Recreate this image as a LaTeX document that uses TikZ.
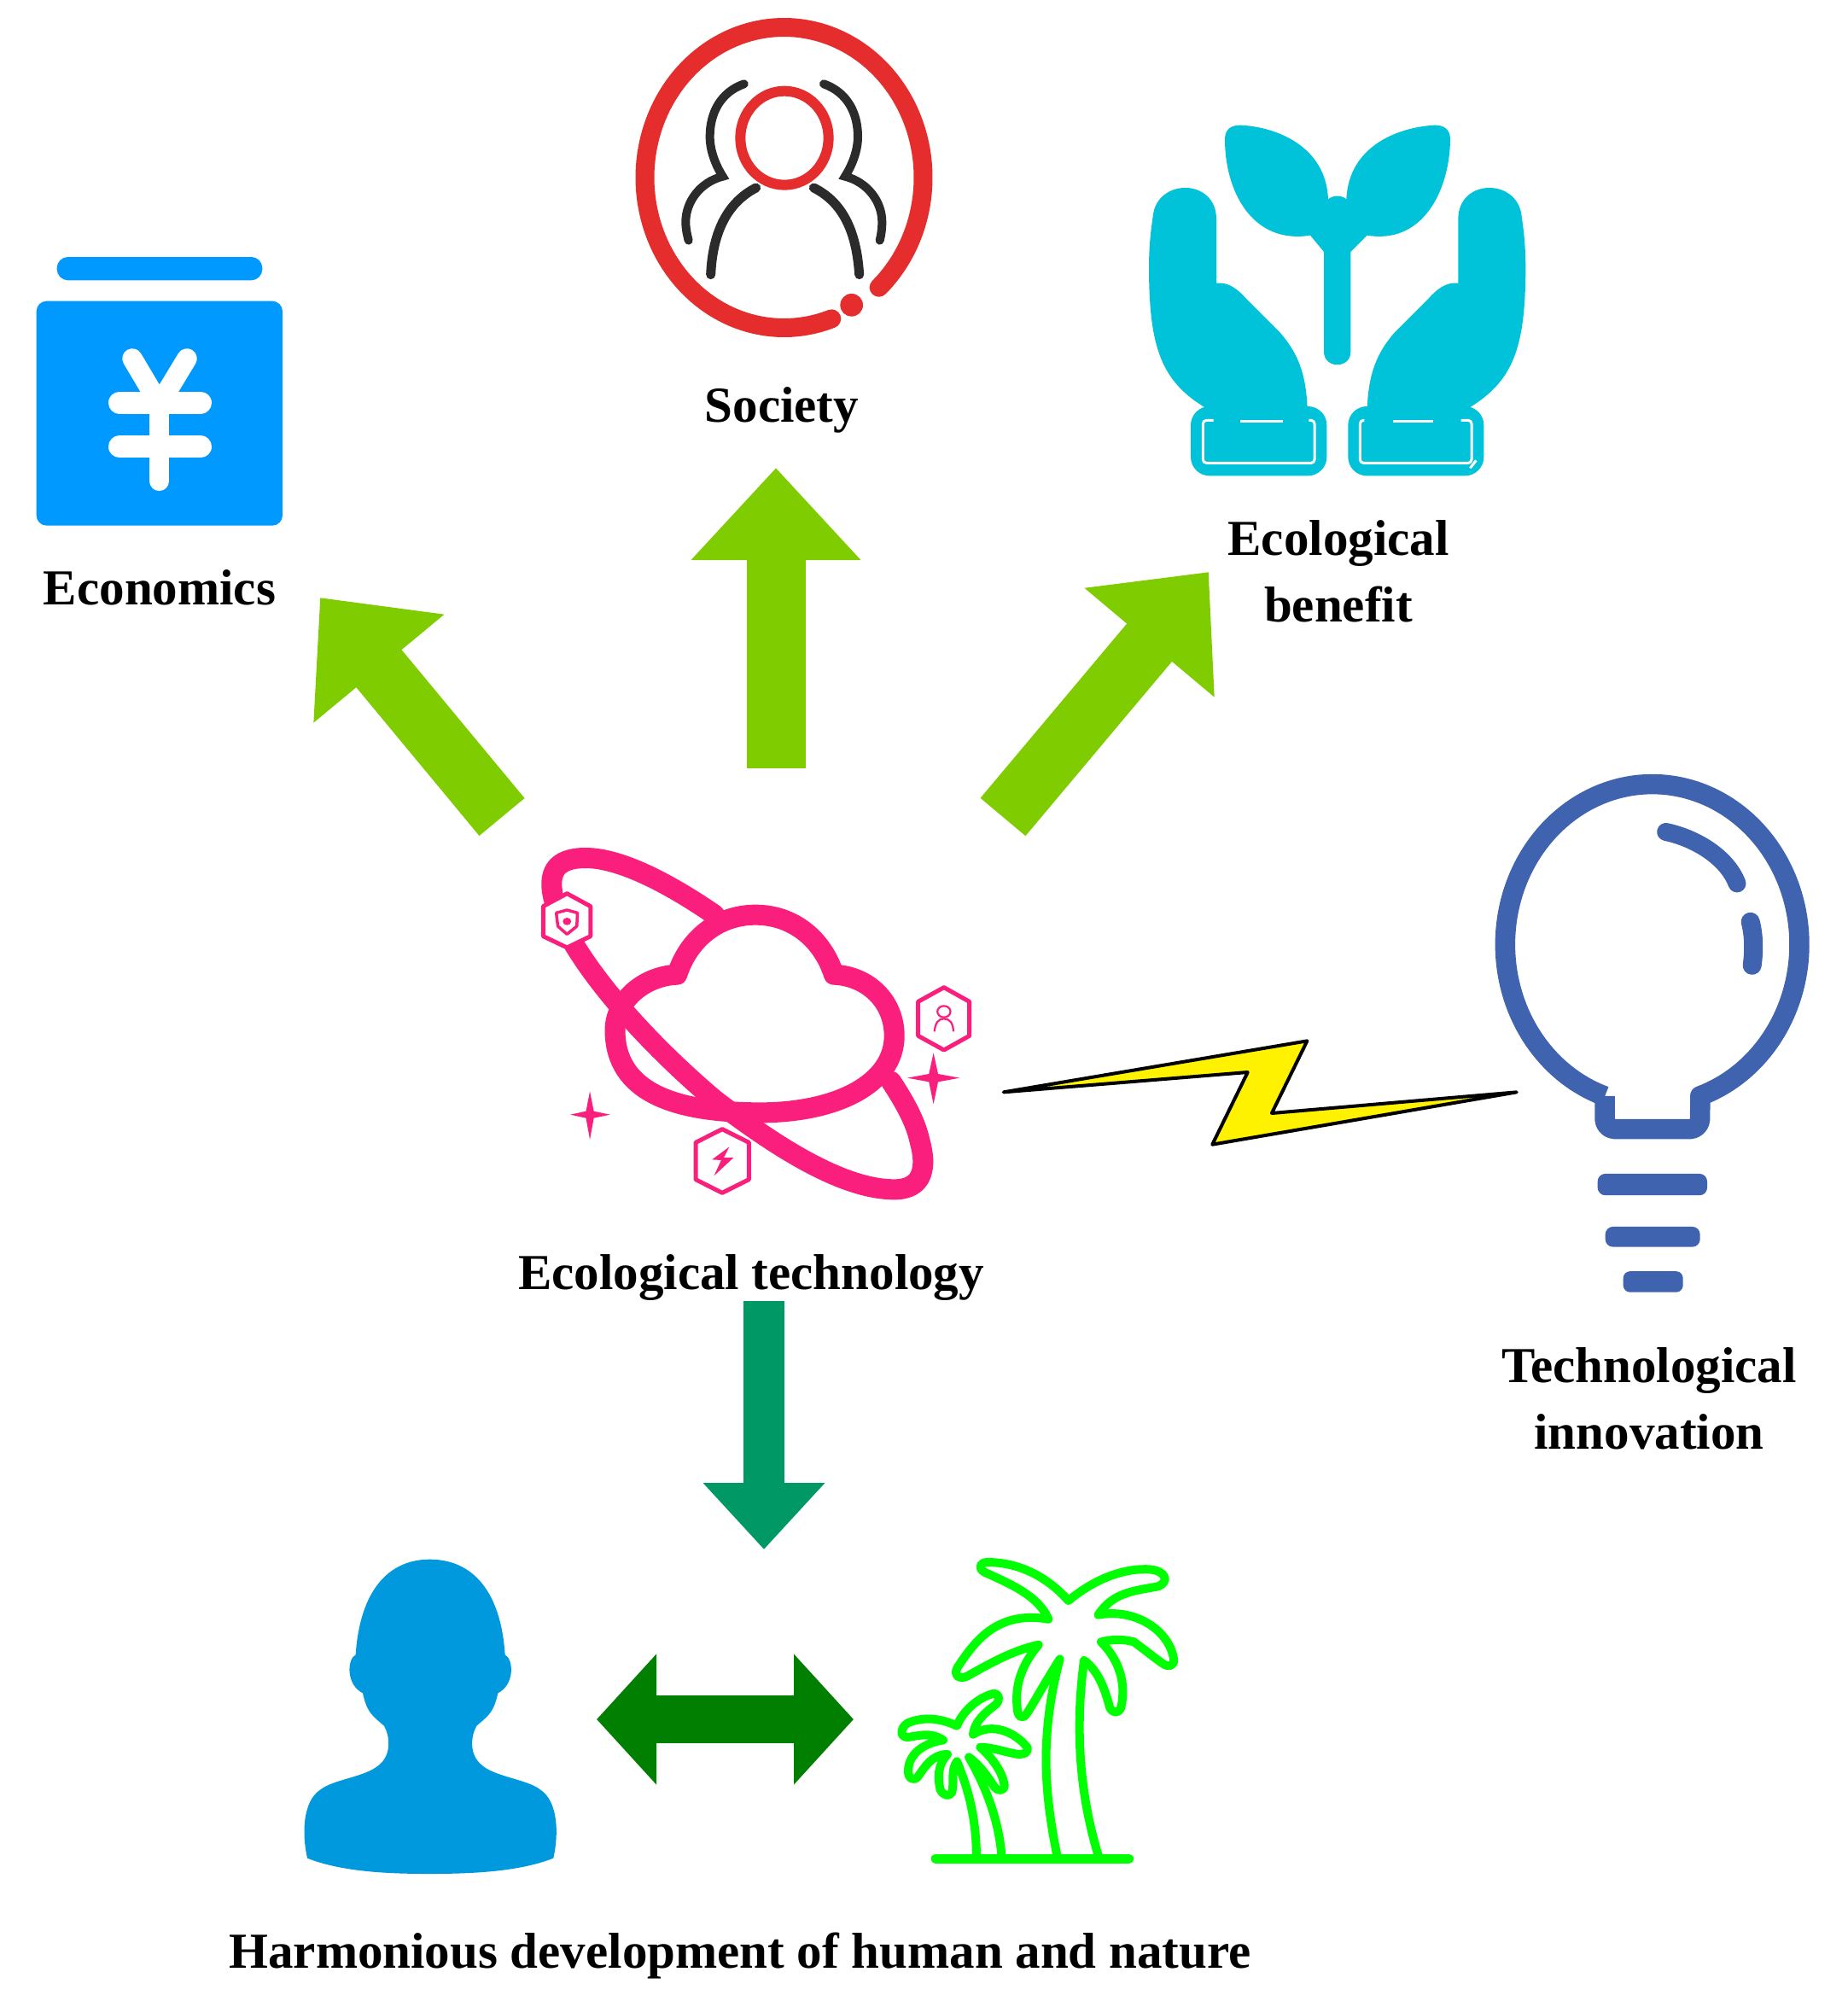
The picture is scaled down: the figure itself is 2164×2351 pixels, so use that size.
\documentclass[tikz,border=0pt]{standalone}
\usepackage{fontspec}
\setmainfont{Liberation Serif}
\usetikzlibrary{arrows.meta}
\definecolor{arrowgreen}{HTML}{7FCC00}
\definecolor{tealgreen}{HTML}{009966}
\definecolor{darkgreen}{HTML}{007F00}
\definecolor{bookblue}{HTML}{0099FF}
\definecolor{ringred}{HTML}{E52D2D}
\definecolor{inkdark}{HTML}{2B2B2B}
\definecolor{handteal}{HTML}{00C2D8}
\definecolor{planetpink}{HTML}{FB1F7D}
\definecolor{bulbblue}{HTML}{3F63AF}
\definecolor{personblue}{HTML}{0099DD}
\definecolor{palmgreen}{HTML}{00FF00}
\tikzset{
  zoomed/.style n args={3}{shift={#1},x=#2pt,y=-#3pt},
  caption/.style={font=\fontsize{59}{78}\selectfont\bfseries,align=center,inner sep=0pt},
  bigarrow/.style={line width=69pt,arrowgreen,-{Triangle[length=108pt,width=192pt]}},
  downarrow/.style={line width=48pt,tealgreen,-{Triangle[length=78pt,width=138pt]}},
  botharrow/.style={line width=56pt,darkgreen,{Triangle[length=70pt,width=149pt]}-{Triangle[length=70pt,width=149pt]}},
  pinkline/.style={draw=planetpink,line width=24pt,line join=round,line cap=round},
  hexa/.style={draw=planetpink,fill=white,line width=5pt,line join=round},
  palmline/.style={draw=palmgreen,line width=10pt,line join=round,line cap=round},
}
\begin{document}
\begin{tikzpicture}[x=1pt,y=-1pt]
\useasboundingbox (0,0) rectangle (2164,2351);

% ---------- anchors for connectors
\coordinate (techLeft) at (588,957);
\coordinate (techTop) at (909,900);
\coordinate (techRight) at (1175,957);
\coordinate (econTip) at (375,700);
\coordinate (socTip) at (909,548);
\coordinate (benefitTip) at (1416,670);
\coordinate (techBottom) at (895,1524);
\coordinate (humanTip) at (895,1815);
\coordinate (humanSide) at (699,2014);
\coordinate (natureSide) at (1000,2014);

% ---------- arrows
\draw[bigarrow] (techLeft) -- (econTip);
\draw[bigarrow] (techTop) -- (socTip);
\draw[bigarrow] (techRight) -- (benefitTip);
\draw[downarrow] (techBottom) -- (humanTip);
\draw[botharrow] (humanSide) -- (natureSide);

% ---------- book
\begin{scope}[zoomed={(20,280)}{.33333}{.33333}]
  \fill[bookblue,rounded corners=13pt] (140,63) rectangle (862,145);
  \fill[bookblue,rounded corners=12pt] (68,218) rectangle (933,1007);
  \draw[white,line width=23.5pt,line cap=round,line join=miter] (405,420) -- (500,580) -- (597,420);
  \draw[white,line width=26pt,line cap=round] (360,575) -- (645,575);
  \draw[white,line width=26pt,line cap=round] (360,730) -- (645,730);
  \draw[white,line width=23.5pt,line cap=round] (500,580) -- (500,850);
\end{scope}

% ---------- society
\draw[ringred,line width=22pt,line cap=round] plot[smooth,domain=70:407,samples=120] ({918.5+163*cos(\x)},{208+176*sin(\x)});
\begin{scope}[zoomed={(720,10)}{.33333}{.33333}]
  \fill[ringred] (833,1042) circle[radius=40];
  \draw[ringred,line width=12pt] (597,455) ellipse[x radius=155,y radius=165];
  \draw[inkdark,line width=10pt,line cap=round,line join=miter]
    (455,265) .. controls (370,295) and (335,370) .. (335,450) .. controls (335,500) and (355,550) .. (380,590)
    .. controls (300,610) and (250,680) .. (250,750) .. controls (250,775) and (255,795) .. (260,815);
  \draw[inkdark,line width=10pt,line cap=round,line join=miter]
    (735,265) .. controls (820,295) and (855,370) .. (855,450) .. controls (855,500) and (835,550) .. (810,590)
    .. controls (890,610) and (940,680) .. (940,750) .. controls (940,775) and (937,795) .. (932,815);
  \draw[inkdark,line width=11pt,line cap=round] (497,630) .. controls (400,680) and (345,780) .. (338,935);
  \draw[inkdark,line width=11pt,line cap=round] (700,630) .. controls (800,680) and (850,780) .. (860,935);
\end{scope}

% ---------- hands and sprout
\begin{scope}[zoomed={(1320,130)}{.33333}{.33333}]
  \fill[handteal]
    (345,100) .. controls (345,65) and (365,50) .. (400,50)
    .. controls (520,55) and (700,120) .. (708,310)
    .. controls (725,295) and (755,295) .. (772,310)
    .. controls (780,120) and (960,55) .. (1085,50)
    .. controls (1115,50) and (1137,65) .. (1137,100)
    .. controls (1135,280) and (1040,470) .. (845,437)
    -- (787,495) -- (787,846)
    .. controls (787,907) and (693,907) .. (693,846)
    -- (693,495) -- (645,437)
    .. controls (440,470) and (345,280) .. (345,100) -- cycle;
  \fill[handteal]
    (280,1045) .. controls (120,950) and (80,830) .. (78,560)
    .. controls (78,470) and (85,420) .. (92,370)
    .. controls (105,235) and (315,235) .. (315,380)
    -- (315,605) .. controls (355,600) and (390,625) .. (420,660)
    -- (540,780) .. controls (600,850) and (630,920) .. (635,1045) -- cycle;
  \fill[handteal]
    (1200,1045) .. controls (1360,950) and (1400,830) .. (1402,560)
    .. controls (1402,470) and (1395,420) .. (1388,370)
    .. controls (1375,235) and (1165,235) .. (1165,380)
    -- (1165,605) .. controls (1125,600) and (1090,625) .. (1060,660)
    -- (940,780) .. controls (880,850) and (850,920) .. (845,1045) -- cycle;
  \fill[handteal,rounded corners=22pt] (225,1038) rectangle (703,1282);
  \fill[handteal,rounded corners=22pt] (778,1038) rectangle (1255,1282);
  \draw[white,line width=3pt,rounded corners=4pt] (305,1087) -- (268,1087) -- (268,1237) -- (660,1237) -- (660,1087) -- (640,1087);
  \draw[white,line width=3pt] (400,1089) -- (548,1089);
  \draw[white,line width=3pt,rounded corners=4pt] (835,1087) -- (820,1087) -- (820,1237) -- (1212,1237) -- (1212,1087) -- (1175,1087);
  \draw[white,line width=3pt] (935,1089) -- (1077,1089);
  \draw[white,line width=3pt] (1207,1255) -- (1228,1228);
\end{scope}

% ---------- planet and cloud
\begin{scope}[zoomed={(600,960)}{.38265}{.33333}]
  \draw[pinkline] (130,290) .. controls (105,190) and (130,135) .. (225,135) .. controls (340,135) and (500,240) .. (620,335);
  \draw[pinkline] (190,440) .. controls (280,610) and (440,810) .. (620,985) .. controls (780,1125) and (1000,1300) .. (1170,1300) .. controls (1260,1300) and (1270,1220) .. (1248,1130) .. controls (1235,1060) and (1200,990) .. (1160,920);
  \draw[pinkline]
    (505,545) .. controls (540,420) and (630,335) .. (745,335)
    .. controls (860,335) and (950,420) .. (985,545)
    .. controls (1090,550) and (1170,640) .. (1170,760)
    .. controls (1170,930) and (990,1030) .. (760,1030)
    .. controls (500,1030) and (315,960) .. (315,740)
    .. controls (315,640) and (400,550) .. (505,545) -- cycle;
  \draw[hexa] (168,260) -- (240,305) -- (240,410) -- (168,450) -- (95,410) -- (95,305) -- cycle;
  \draw[planetpink,line width=3.5pt,line join=round] (135,328) -- (168,318) -- (200,328) -- (198,375) -- (168,403) -- (140,375) -- cycle;
  \fill[planetpink] (168,358) circle[radius=13];
  \draw[hexa] (1322,590) -- (1400,640) -- (1400,760) -- (1322,810) -- (1243,760) -- (1243,640) -- cycle;
  \draw[planetpink,line width=2.2pt] (1322,675) circle[radius=20];
  \draw[planetpink,line width=2.2pt] (1293,745) .. controls (1295,715) and (1305,700) .. (1322,700) .. controls (1340,700) and (1350,715) .. (1351,745);
  \draw[hexa] (643,1088) -- (725,1135) -- (725,1265) -- (643,1312) -- (562,1265) -- (562,1135) -- cycle;
  \fill[planetpink] (665,1150) -- (612,1195) -- (640,1197) -- (618,1252) -- (678,1188) -- (648,1188) -- cycle;
  \fill[planetpink] (1290,820) -- (1304,894) -- (1370,908) -- (1304,922) -- (1290,1000) -- (1276,922) -- (1210,908) -- (1276,894) -- cycle;
  \fill[planetpink] (238,955) -- (250,1025) -- (300,1037) -- (250,1049) -- (238,1125) -- (226,1049) -- (178,1037) -- (226,1025) -- cycle;
\end{scope}

% ---------- bulb
\begin{scope}[zoomed={(1730,890)}{.33333}{.40816}]
  \draw[bulbblue,line width=23.5pt,line join=round]
    plot[smooth,domain=108.8:431,samples=120] ({617+517*cos(\x)},{530+460*sin(\x)})
    [rounded corners=12pt] -- (785,1060) -- (450,1060) -- (450,965);
  \draw[bulbblue,line width=21pt,line cap=round] (665,207) .. controls (770,225) and (880,280) .. (915,355);
  \draw[bulbblue,line width=22pt,line cap=round] (962,465) .. controls (975,505) and (975,550) .. (968,590);
  \fill[bulbblue,rounded corners=9pt] (425,1188) rectangle (810,1250);
  \fill[bulbblue,rounded corners=9pt] (452,1340) rectangle (785,1398);
  \fill[bulbblue,rounded corners=8pt] (515,1468) rectangle (725,1528);
\end{scope}

% ---------- lightning between technology and innovation
\begin{scope}[zoomed={(1150,1200)}{.41454}{.33333}]
  \coordinate (boltLeft) at (62,238);
  \coordinate (boltRight) at (1512,238);
  \draw[fill=yellow,draw=black,line width=4pt,line join=round]
    (boltLeft) -- (920,58) -- (820,312) -- (boltRight) -- (652,422) -- (752,168) -- cycle;
\end{scope}

% ---------- person
\begin{scope}[zoomed={(340,1810)}{.33333}{.33333}]
  \fill[personblue]
    (490,50) .. controls (640,50) and (740,160) .. (755,385)
    .. controls (785,400) and (790,490) .. (730,520)
    .. controls (715,590) and (695,600) .. (655,635)
    .. controls (635,670) and (630,730) .. (665,765)
    .. controls (710,815) and (830,820) .. (880,860)
    .. controls (940,900) and (945,1010) .. (925,1100)
    .. controls (800,1150) and (620,1155) .. (490,1155)
    .. controls (360,1155) and (185,1150) .. (60,1100)
    .. controls (40,1010) and (45,900) .. (105,860)
    .. controls (155,820) and (275,815) .. (320,765)
    .. controls (355,730) and (350,670) .. (330,635)
    .. controls (290,600) and (270,590) .. (255,520)
    .. controls (195,490) and (200,400) .. (230,385)
    .. controls (245,160) and (345,50) .. (490,50) -- cycle;
\end{scope}

% ---------- palms
\begin{scope}[zoomed={(1020,1780)}{.33333}{.33333}]
  \draw[palmline]
    (655,1180) .. controls (615,980) and (590,770) .. (665,490)
    .. controls (620,560) and (570,650) .. (550,680) .. controls (535,705) and (515,695) .. (515,660)
    .. controls (505,570) and (540,500) .. (590,440)
    .. controls (500,460) and (420,505) .. (340,550) .. controls (310,565) and (290,545) .. (305,520)
    .. controls (370,420) and (450,320) .. (625,350)
    .. controls (590,270) and (500,230) .. (400,185) .. controls (375,170) and (385,150) .. (410,150)
    .. controls (520,150) and (620,200) .. (695,285)
    .. controls (780,215) and (880,170) .. (980,175) .. controls (1040,180) and (1050,220) .. (1010,235)
    .. controls (930,250) and (850,255) .. (800,335)
    .. controls (930,310) and (1050,390) .. (1065,490) .. controls (1070,515) and (1045,520) .. (1025,505)
    .. controls (990,480) and (960,455) .. (925,430) .. controls (890,420) and (850,420) .. (810,430)
    .. controls (870,490) and (900,570) .. (880,660) .. controls (870,685) and (850,680) .. (840,660)
    .. controls (825,600) and (800,530) .. (750,495)
    .. controls (720,720) and (730,950) .. (800,1180);
  \draw[palmline]
    (372,1180) .. controls (370,1050) and (345,950) .. (303,850)
    .. controls (280,880) and (295,930) .. (285,960) .. controls (275,975) and (255,970) .. (245,950)
    .. controls (235,910) and (235,860) .. (270,825)
    .. controls (215,825) and (190,870) .. (165,905) .. controls (150,920) and (130,910) .. (132,880)
    .. controls (135,820) and (190,785) .. (255,775)
    .. controls (210,745) and (170,760) .. (130,765) .. controls (100,765) and (105,730) .. (130,715)
    .. controls (190,690) and (250,700) .. (303,725)
    .. controls (325,670) and (380,625) .. (430,612) .. controls (455,610) and (455,635) .. (440,650)
    .. controls (400,680) and (365,710) .. (360,755)
    .. controls (430,710) and (510,750) .. (550,800) .. controls (555,820) and (540,825) .. (520,825)
    .. controls (480,820) and (430,800) .. (385,800)
    .. controls (430,840) and (465,890) .. (470,935) .. controls (470,955) and (445,955) .. (435,940)
    .. controls (410,900) and (380,860) .. (345,835)
    .. controls (400,930) and (450,1050) .. (460,1180);
  \draw[palmline,line width=11pt] (228,1192) -- (908,1192);
\end{scope}

% ---------- labels
\node[caption] (economics) at (187,688) {Economics};
\node[caption] (society) at (916,480) {Society};
\node[caption] (benefit) at (1568,669) {Ecological\\benefit};
\node[caption] (ecotech) at (880,1497) {Ecological technology};
\node[caption] (innovation) at (1932,1638) {Technological\\innovation};
\node[caption] (harmony) at (867,2291) {Harmonious development of human and nature};
\end{tikzpicture}
\end{document}
